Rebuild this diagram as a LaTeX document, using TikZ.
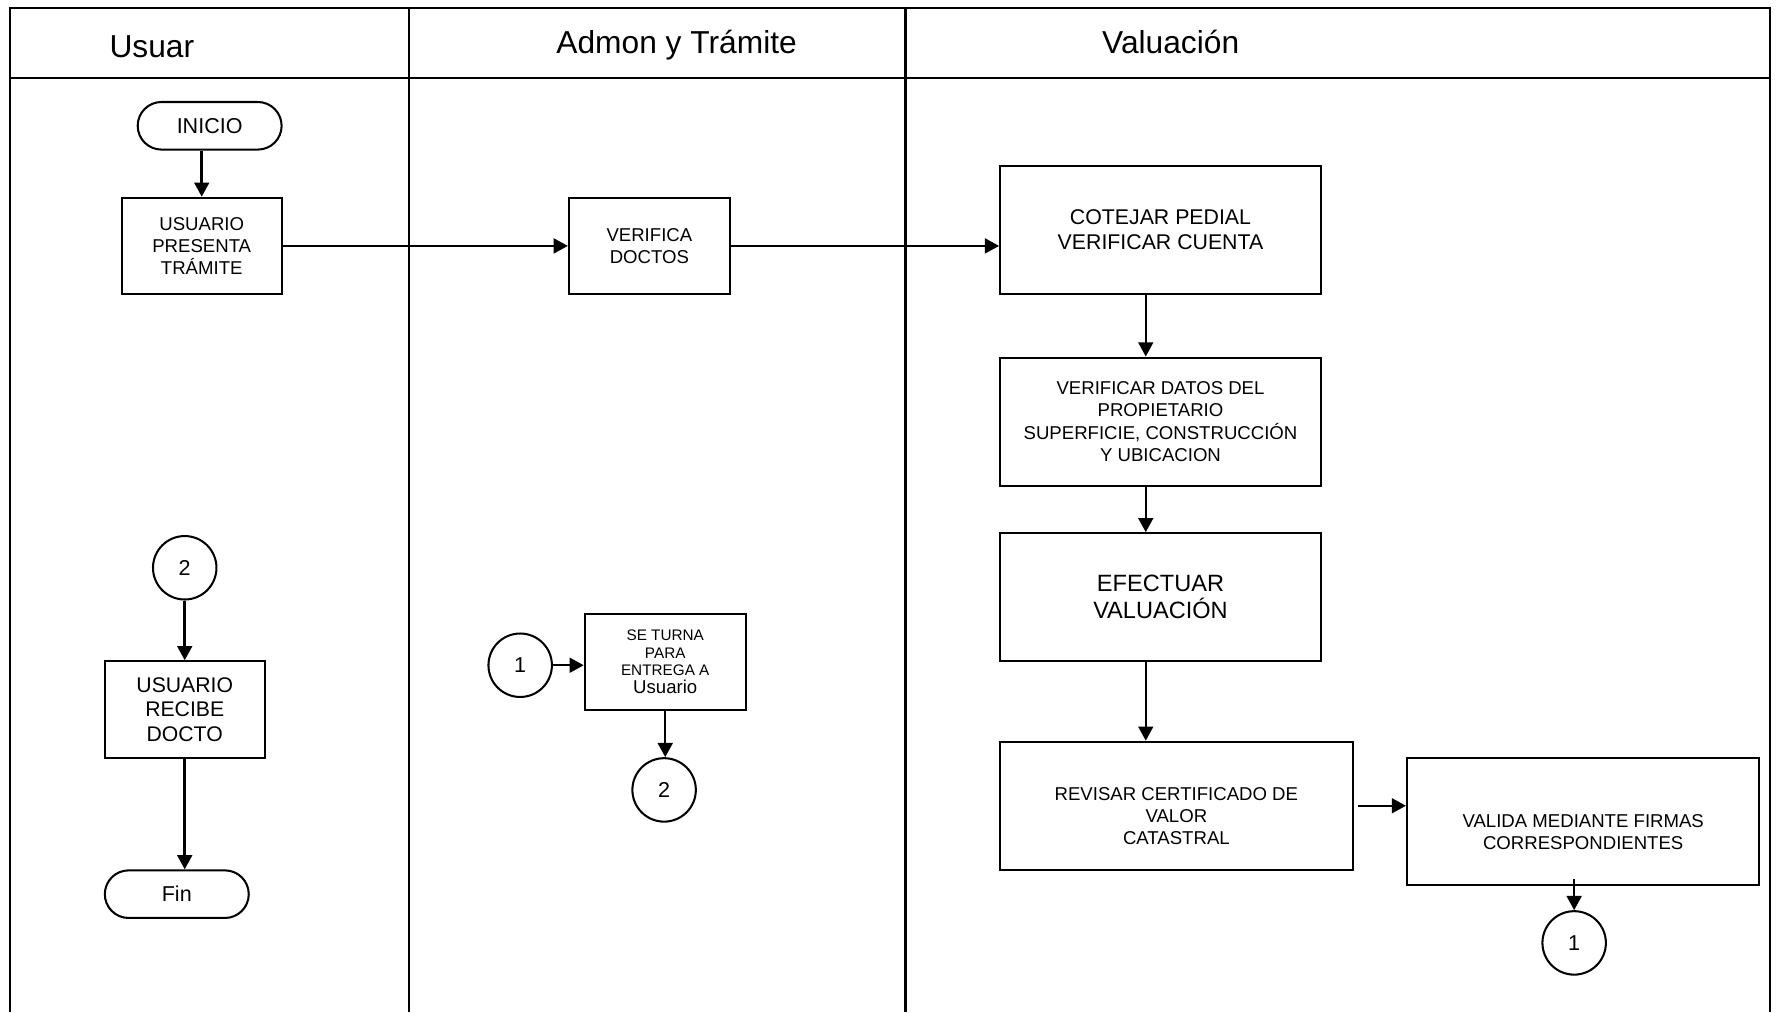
\documentclass[tikz,border=0pt]{standalone}
\usepackage{fontspec}
\setmainfont{Liberation Sans}
\usetikzlibrary{arrows.meta,shapes.misc}
\newcommand\smalltxt[1]{{\fontsize{13.5}{15.5}\selectfont #1}}

\begin{document}
\begin{tikzpicture}[x=1pt,y=-1pt,
      every node/.style={align=center,inner sep=0pt,
        font=\fontsize{16.4}{19.5}\selectfont},
      box/.style={draw,line width=1.8pt},
      term/.style={draw,rounded rectangle,line width=1.8pt,
        minimum width=127pt,minimum height=42pt,
        font=\fontsize{19}{22}\selectfont},
      conn/.style={draw,circle,line width=1.8pt,minimum size=56pt,
        font=\fontsize{19}{22}\selectfont},
      head/.style={anchor=base,font=\fontsize{28}{32}\selectfont},
      flow/.style={line width=2.2pt,-{Triangle[length=12.5pt,width=13pt]}},
      lane/.style={line width=1.8pt}]
  \useasboundingbox (0,0) rectangle (1568,893);
  \draw[lane] (9,893) -- (9,7) -- (1562,7) -- (1562,893);
  \draw[lane] (9,69) -- (1562,69);
  \draw[lane] (361,7) -- (361,893);
  \draw[lane] (799,7) -- (799,893);
  \node[head] (hu) at (134,51) {Usuar};
  \node[head] (ha) at (597,47) {Admon y Trámite};
  \node[head] (hv) at (1033,47) {Valuación};

  \node[term] (ini) at (185,111) {INICIO};
  \node[box,minimum width=141pt,minimum height=85pt] (pres) at (178,217)
    {USUARIO\\PRESENTA\\TRÁMITE};
  \node[box,minimum width=142pt,minimum height=85pt] (ver) at (573,217)
    {VERIFICA\\DOCTOS};
  \node[box,minimum width=283pt,minimum height=113pt,
    font=\fontsize{18.8}{22}\selectfont] (cot) at (1024,203)
    {COTEJAR PEDIAL\\VERIFICAR CUENTA};
  \node[box,minimum width=283pt,minimum height=113pt] (dat) at (1024,372)
    {VERIFICAR DATOS DEL\\PROPIETARIO\\SUPERFICIE, CONSTRUCCIÓN\\Y UBICACION};
  \node[box,minimum width=283pt,minimum height=113pt,
    font=\fontsize{20.8}{24}\selectfont] (efe) at (1024,527)
    {EFECTUAR\\VALUACIÓN};
  \node[box,minimum width=311pt,minimum height=113pt] (rev) at (1038,711) {};
  \node (revt) at ([yshift=-9pt]rev.center)
    {REVISAR CERTIFICADO DE\\VALOR\\CATASTRAL};
  \node[box,minimum width=311pt,minimum height=112pt] (val) at (1397,725) {};
  \node (valt) at ([yshift=-9pt]val.center)
    {VALIDA MEDIANTE FIRMAS\\CORRESPONDIENTES};
  \node[conn] (c1v) at (1389,832) {1};

  \node[conn] (c2u) at (163,501) {2};
  \node[box,minimum width=141pt,minimum height=85pt,
    font=\fontsize{18.7}{21.5}\selectfont] (rec) at (163,626)
    {USUARIO\\RECIBE\\DOCTO};
  \node[term] (fin) at (156,789) {\raisebox{-3pt}{Fin}};
  \node[conn] (c1a) at (459,587) {1};
  \node[box,minimum width=142pt,minimum height=85pt,
    font=\fontsize{13.5}{15.5}\selectfont] (tur) at (587,584)
    {SE TURNA\\PARA\\ENTREGA A\\{\fontsize{16.4}{17.5}\selectfont Usuario}};
  \node[conn] (c2a) at (586,697) {2};

  \coordinate (vx) at (1011,0);
  \draw[flow] (pres.north |- ini.south) -- (pres.north);
  \draw[flow] (pres.east) -- (ver.west);
  \draw[flow] (ver.east) -- (ver.east -| cot.west);
  \draw[flow] (cot.south -| vx) -- (dat.north -| vx);
  \draw[flow] (dat.south -| vx) -- (efe.north -| vx);
  \draw[flow] (efe.south -| vx) -- (rev.north -| vx);
  \draw[flow,shorten <=4pt] (rev.east) -- (rev.east -| val.west);
  \draw[flow,shorten <=-6pt] (c1v.north |- val.south) -- (c1v.north);
  \draw[flow] (c2u.south) -- (rec.north);
  \draw[flow] (rec.south) -- (rec.south |- fin.north);
  \draw[flow] (c1a.east) -- (c1a.east -| tur.west);
  \draw[flow] (tur.south) -- (tur.south |- c2a.north);
\end{tikzpicture}
\end{document}
